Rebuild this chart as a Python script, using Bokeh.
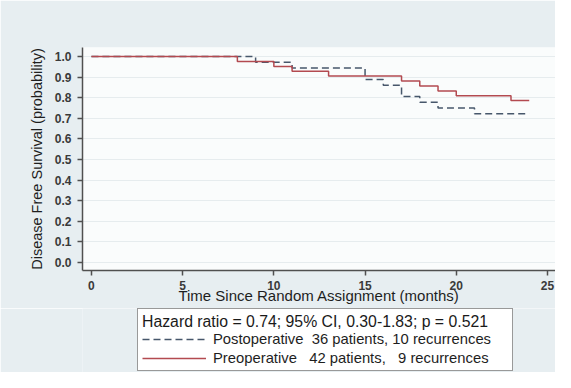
from bokeh.plotting import figure
from bokeh.layouts import column
from bokeh.models import Legend, LegendItem, FixedTicker, Range1d
from bokeh.embed import file_html
from bokeh.resources import INLINE

# ---- data ----
preop_months = [0, 8, 10, 11, 13, 17, 18, 19, 20, 23, 24]
preop_surv = [1.0, 0.976, 0.952, 0.929, 0.905, 0.881, 0.857, 0.833, 0.810, 0.786, 0.786]
postop_months = [0, 9, 11, 15, 16, 17, 18, 19, 21, 24]
postop_surv = [1.0, 0.972, 0.944, 0.889, 0.861, 0.806, 0.778, 0.750, 0.722, 0.722]

x_ticks = [0, 5, 10, 15, 20, 25]
y_ticks = [0.0, 0.1, 0.2, 0.3, 0.4, 0.5, 0.6, 0.7, 0.8, 0.9, 1.0]
y_tick_labels = ["0.0", "0.1", "0.2", "0.3", "0.4", "0.5", "0.6", "0.7", "0.8", "0.9", "1.0"]

x_title = "Time Since Random Assignment (months)"
y_title = "Disease Free Survival (probability)"
legend_title = "Hazard ratio = 0.74; 95% CI, 0.30-1.83; p = 0.521"
postop_label = "Postoperative\u00a0\u00a036 patients, 10 recurrences"
preop_label = "Preoperative\u00a0\u00a0\u00a042 patients,\u00a0\u00a0\u00a09 recurrences"

FONT = "Liberation Sans"
OUTER_BG = "#e7eef1"
PLOT_BG = "#fafcfc"
RED = "#b34a50"
BLUE = "#47576b"

# ---- main chart ----
p = figure(frame_width=473, frame_height=223, output_backend="svg", toolbar_location=None,
           x_range=Range1d(-0.49, 25.44), y_range=Range1d(-0.039, 1.044),
           min_border_left=82, min_border_right=0, min_border_top=47,
           min_border_bottom=38)

p.background_fill_color = PLOT_BG
p.border_fill_color = OUTER_BG
p.outline_line_color = None

p.xgrid.visible = False
p.ygrid.ticker = FixedTicker(ticks=y_ticks)
p.ygrid.grid_line_color = "#e6ecee"
p.ygrid.grid_line_width = 1

p.xaxis.ticker = FixedTicker(ticks=x_ticks)
p.yaxis.ticker = FixedTicker(ticks=y_ticks)
p.yaxis.major_label_overrides = {v: s for v, s in zip(y_ticks, y_tick_labels)}

for ax in (p.xaxis, p.yaxis):
    ax.axis_line_color = "#505050"
    ax.axis_line_width = 1.5
    ax.major_tick_line_color = "#505050"
    ax.major_tick_line_width = 1.5
    ax.major_tick_out = 5
    ax.major_tick_in = 0
    ax.minor_tick_line_color = None
    ax.major_label_text_font = FONT
    ax.major_label_text_font_size = "12px"
    ax.major_label_text_font_style = "bold"
    ax.major_label_text_color = "#3a3a3a"
    ax.axis_label_text_font = FONT
    ax.axis_label_text_font_style = "normal"
    ax.axis_label_text_color = "#1e1e1e"

p.xaxis.axis_label = x_title
p.xaxis.axis_label_text_font_size = "15px"
p.xaxis.major_label_standoff = 5
p.xaxis.axis_label_standoff = -6

p.yaxis.axis_label = y_title
p.yaxis.axis_label_text_font_size = "14.5px"
p.yaxis.major_label_standoff = 6
p.yaxis.axis_label_standoff = 7

p.step(postop_months, postop_surv, mode="after", line_color=BLUE,
       line_width=1.5, line_dash="7 4")
p.step(preop_months, preop_surv, mode="after", line_color=RED, line_width=1.5)

# ---- legend strip under the chart ----
lg = figure(width=555, height=64, output_backend="svg", toolbar_location=None,
            x_axis_type=None, y_axis_type=None,
            x_range=Range1d(100, 101), y_range=Range1d(100, 101),
            min_border_left=0, min_border_right=0, min_border_top=0, min_border_bottom=0)
lg.background_fill_color = OUTER_BG
lg.border_fill_color = OUTER_BG
lg.outline_line_color = None
lg.grid.visible = False

lr_post = lg.step(postop_months, postop_surv, mode="after", line_color=BLUE,
                  line_width=1.5, line_dash="7 4")
lr_pre = lg.step(preop_months, preop_surv, mode="after", line_color=RED, line_width=1.5)

legend = Legend(
    items=[LegendItem(label=postop_label, renderers=[lr_post]),
           LegendItem(label=preop_label, renderers=[lr_pre])],
    title=legend_title,
    title_text_font=FONT, title_text_font_size="15.8px",
    title_text_font_style="normal", title_text_color="#1a1a1a",
    title_standoff=0,
    label_text_font=FONT, label_text_font_size="14.8px", label_text_color="#1e1e1e",
    glyph_width=64, glyph_height=16, label_height=16, label_width=295,
    label_standoff=7, spacing=3, padding=4, margin=0,
    border_line_color="#333333", border_line_width=1.5,
    background_fill_color="white", background_fill_alpha=1.0,
    location=(55, 1),
)
lg.add_layout(legend, "center")

open("out.html", "w").write(file_html(column(p, lg, spacing=0), INLINE))
